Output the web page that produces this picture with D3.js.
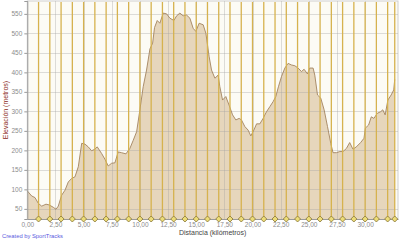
<!DOCTYPE html>
<html>
<head>
<meta charset="utf-8">
<script src="https://cdn.jsdelivr.net/npm/d3@7"></script>
<style>
  body { margin: 0; background: #ffffff; }
  svg { display: block; font-family: "Liberation Sans", "DejaVu Sans", sans-serif; }
</style>
</head>
<body>
<svg id="chart" width="400" height="240"></svg>
<script>
// Elevation profile, distance in km and elevation in metres
const distKm = [0, 0.39, 0.68, 0.98, 1.28, 1.66, 1.95, 2.31, 2.55, 2.75, 3.05, 3.35, 3.64, 3.94, 4.23, 4.53,
  4.83, 5.12, 5.41, 5.71, 6.0, 6.21, 6.6, 6.9, 7.19, 7.49, 7.78, 8.07, 8.37, 8.76, 9.11, 9.41, 9.71, 10.0,
  10.29, 10.59, 10.89, 11.13, 11.3, 11.54, 11.77, 12.07, 12.37, 12.66, 13.02, 13.26, 13.55, 13.84, 14.14,
  14.44, 14.73, 14.97, 15.26, 15.62, 15.86, 16.15, 16.36, 16.66, 16.95, 17.1, 17.34, 17.63, 17.92, 18.23,
  18.52, 18.81, 19.02, 19.32, 19.61, 19.85, 20.12, 20.36, 20.65, 20.94, 21.24, 21.54, 21.83, 22.07, 22.3,
  22.57, 22.87, 23.16, 23.46, 23.76, 24.05, 24.35, 24.58, 24.88, 25.08, 25.38, 25.53, 25.77, 26.06, 26.36,
  26.66, 26.95, 27.15, 27.45, 27.75, 28.04, 28.34, 28.63, 28.92, 29.22, 29.6, 29.9, 30.02, 30.31, 30.55,
  30.78, 31.08, 31.37, 31.57, 31.78, 32.02, 32.31, 32.54, 32.63];
const elevM = [96, 83, 79, 64, 57, 62, 60, 54, 49, 57, 85, 98, 119, 128, 132, 158,
  218, 216, 209, 199, 203, 209, 192, 177, 160, 167, 168, 196, 194, 191, 205, 226, 248, 304,
  363, 406, 460, 475, 515, 533, 526, 552, 550, 539, 533, 545, 552, 545, 547,
  539, 513, 505, 526, 522, 500, 440, 406, 385, 393, 363, 329, 338, 316, 291,
  278, 282, 278, 261, 252, 237, 252, 268, 268, 282, 299, 312, 325, 338, 363,
  389, 411, 423, 419, 417, 411, 402, 408, 396, 411, 411, 393, 342, 334, 304,
  261, 218, 194, 194, 197, 197, 205, 220, 203, 209, 220, 231, 257, 265, 286,
  282, 295, 299, 304, 291, 329, 342, 355, 382];

// km markers along the route
const markerKm = [1, 2, 3, 4, 5, 6, 7, 8, 9, 10, 11, 12, 13, 14, 15, 16, 17, 18, 19, 20,
  21, 22, 23, 24, 25, 26, 27, 28, 29, 30, 31, 32, 32.63];

const xTicks = [0, 2.5, 5, 7.5, 10, 12.5, 15, 17.5, 20, 22.5, 25, 27.5, 30];
const yTicks = [50, 100, 150, 200, 250, 300, 350, 400, 450, 500, 550];

const svg = d3.select("#chart");
const plot = { left: 27.3, right: 398, top: 1, bottom: 219 };

const x = d3.scaleLinear().domain([0, 32.92]).range([plot.left, plot.right]);
const y = d3.scaleLinear().domain([24, 583]).range([plot.bottom, plot.top]);

const data = distKm.map((d, i) => ({ km: d, m: elevM[i] }));

// plot background
svg.append("rect")
  .attr("x", plot.left).attr("y", plot.top)
  .attr("width", plot.right - plot.left).attr("height", plot.bottom - plot.top)
  .attr("fill", "#fcfbf5")
  .attr("stroke", "#cfcfcf");

// area
svg.append("path")
  .datum(data)
  .attr("d", d3.area().x(d => x(d.km)).y0(plot.bottom).y1(d => y(d.m)))
  .attr("fill", "#e6d6bc");

// gridlines (drawn over the fill, as in the original)
svg.append("g").selectAll("line")
  .data(yTicks).enter().append("line")
  .attr("x1", plot.left).attr("x2", plot.right)
  .attr("y1", d => Math.round(y(d)) + 0.5).attr("y2", d => Math.round(y(d)) + 0.5)
  .attr("stroke", "#a0a0a0").attr("stroke-opacity", 0.35);

svg.append("g").selectAll("line")
  .data(xTicks.slice(1)).enter().append("line")
  .attr("x1", d => Math.round(x(d)) + 0.5).attr("x2", d => Math.round(x(d)) + 0.5)
  .attr("y1", plot.top).attr("y2", plot.bottom)
  .attr("stroke", "#a0a0a0").attr("stroke-opacity", 0.35);

// profile line
svg.append("path")
  .datum(data)
  .attr("d", d3.line().x(d => x(d.km)).y(d => y(d.m)))
  .attr("fill", "none")
  .attr("stroke", "#a3835f")
  .attr("stroke-width", 0.9);

// km marker lines
svg.append("g").selectAll("line")
  .data(markerKm).enter().append("line")
  .attr("x1", d => x(d)).attr("x2", d => x(d))
  .attr("y1", plot.top + 1).attr("y2", plot.bottom)
  .attr("stroke", "#d6b24e")
  .attr("stroke-width", 1.3);

// axes
const yAxis = svg.append("g")
  .attr("transform", `translate(${plot.left},0)`)
  .call(d3.axisLeft(y).tickValues(yTicks).tickSize(3).tickPadding(2));
const xAxis = svg.append("g")
  .attr("transform", `translate(0,${plot.bottom})`)
  .call(d3.axisBottom(x).tickValues(xTicks).tickSize(0).tickPadding(3)
    .tickFormat(d => d3.format(".2f")(d).replace(".", ",")));

[yAxis, xAxis].forEach(a => {
  a.select(".domain").attr("stroke", "#9a9a9a");
  a.selectAll(".tick line").attr("stroke", "#9a9a9a");
  a.selectAll("text").attr("fill", "#8c8c8c").style("font-size", "6.5px").attr("font-family", null);
});

// diamonds on km markers
svg.append("g").selectAll("path")
  .data(markerKm).enter().append("path")
  .attr("transform", d => `translate(${x(d)},${plot.bottom})`)
  .attr("d", "M0,-3 L3,0 L0,3 L-3,0 Z")
  .attr("fill", "#ecdc78")
  .attr("stroke", "#857433")
  .attr("stroke-width", 0.8);

// titles
svg.append("text")
  .attr("x", (plot.left + plot.right) / 2).attr("y", 235)
  .attr("text-anchor", "middle")
  .style("font-size", "7px")
  .attr("fill", "#444")
  .text("Distancia (kilómetros)");

svg.append("text")
  .attr("transform", `translate(8,${(plot.top + plot.bottom) / 2}) rotate(-90)`)
  .attr("text-anchor", "middle")
  .style("font-size", "7px")
  .attr("fill", "#8b2a1a")
  .text("Elevación (metros)");

svg.append("text")
  .attr("x", 2).attr("y", 238)
  .style("font-size", "5.8px")
  .attr("fill", "#5a5ae0")
  .text("Created by SportTracks");
</script>
</body>
</html>
